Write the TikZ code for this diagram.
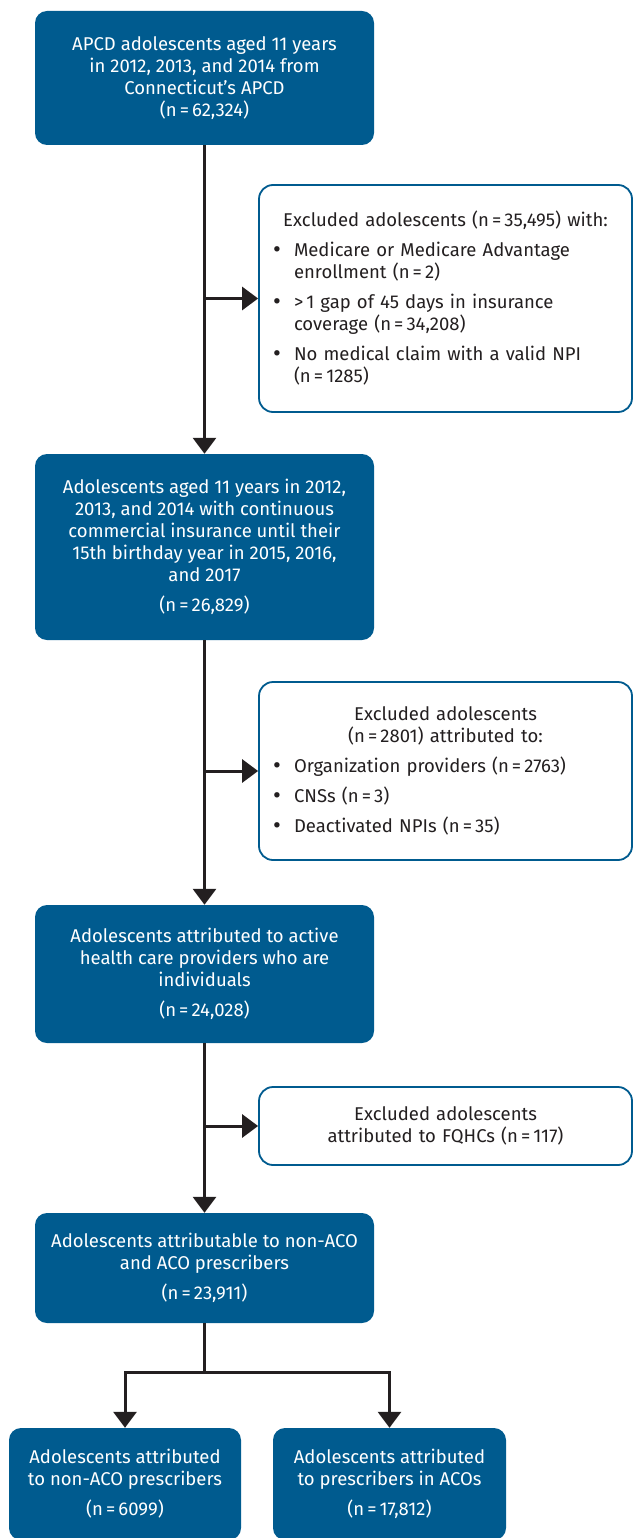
\documentclass[tikz,border=0pt]{standalone}
\usepackage{fontspec}
\setmainfont{Fira Sans}
\usetikzlibrary{arrows.meta}
\definecolor{flowblue}{HTML}{005B8F}
\definecolor{flowink}{HTML}{231F20}
\newcommand{\exitem}[1]{\par\hangindent=21pt\hangafter=1\noindent
  \makebox[21pt][l]{\raisebox{-1pt}{\fontsize{24}{22}\selectfont\textbullet}}#1}
\tikzset{
  mainbox/.style = {rectangle, rounded corners=12pt, fill=flowblue,
    text=white, align=center, inner sep=0pt, minimum width=339pt,
    font=\fontsize{18.5}{22}\selectfont},
  exbox/.style = {rectangle, rounded corners=14pt, draw=flowblue,
    line width=1.8pt, fill=white, text=flowink, align=left,
    inner sep=0pt, minimum width=373pt, text width=345pt,
    font=\fontsize{18.5}{22}\selectfont},
  flowline/.style = {draw=flowink, line width=3pt},
  flow/.style = {flowline, -{Triangle[width=23pt,length=16pt]}}
}

\begin{document}
\begin{tikzpicture}[x=1pt,y=-1pt]
  \useasboundingbox (0,0) rectangle (632,1538);

  \node[mainbox, minimum height=134pt] (apcd) at (204.5,78)
    {APCD adolescents aged 11 years\\ in 2012, 2013, and 2014 from\\
     Connecticut's APCD\\ (n\,=\,62,324)};
  \node[exbox, minimum height=227pt] (excl1) at (445.5,298.5)
    {\parindent=0pt\parskip=8pt
     {\centering Excluded adolescents (n\,=\,35,495) with:\par}
     \exitem{Medicare or Medicare Advantage\newline enrollment (n\,=\,2)}
     \exitem{>\,1 gap of 45 days in insurance\newline coverage (n\,=\,34,208)}
     \exitem{No medical claim with a valid NPI\newline (n\,=\,1285)}\par};
  \node[mainbox, minimum height=186pt] (insured) at (204.5,547)
    {Adolescents aged 11 years in 2012,\\ 2013, and 2014 with continuous\\
     commercial insurance until their\\ 15th birthday year in 2015, 2016,\\
     and 2017\\[8pt] (n\,=\,26,829)};
  \node[exbox, minimum height=178pt] (excl2) at (445.5,771)
    {\parindent=0pt\parskip=8pt
     {\centering Excluded adolescents\\ (n\,=\,2801) attributed to:\par}
     \exitem{Organization providers (n\,=\,2763)}
     \exitem{CNSs (n\,=\,3)}
     \exitem{Deactivated NPIs (n\,=\,35)}\par};
  \node[mainbox, minimum height=138pt] (active) at (204.5,974)
    {Adolescents attributed to active\\ health care providers who are\\
     individuals\\[8pt] (n\,=\,24,028)};
  \node[exbox, align=center, minimum height=78pt] (excl3) at (445.5,1126)
    {Excluded adolescents\\ attributed to FQHCs (n\,=\,117)};
  \node[mainbox, minimum height=110pt] (attrib) at (204.5,1268)
    {Adolescents attributable to non-ACO\\ and ACO prescribers\\[8pt]
     (n\,=\,23,911)};
  \node[mainbox, minimum width=232pt, minimum height=112pt] (nonaco) at (125,1484)
    {Adolescents attributed\\ to non-ACO prescribers\\[8pt] (n\,=\,6099)};
  \node[mainbox, minimum width=233pt, minimum height=112pt] (aco) at (389.5,1484)
    {Adolescents attributed\\ to prescribers in ACOs\\[8pt] (n\,=\,17,812)};
  \coordinate (split) at (204.5,1372);

  % main flow
  \draw[flow] (apcd) -- (insured);
  \draw[flow] (insured) -- (active);
  \draw[flow] (active) -- (attrib);
  \draw[flowline] (attrib) -- (split);
  \draw[flow] (split) -| (nonaco.north);
  \draw[flow] (split) -| (aco.north);

  % exclusions
  \draw[flow] (apcd.south |- excl1.west) -- (excl1.west);
  \draw[flow] (insured.south |- excl2.west) -- (excl2.west);
  \draw[flow] (active.south |- excl3.west) -- (excl3.west);
\end{tikzpicture}
\end{document}
